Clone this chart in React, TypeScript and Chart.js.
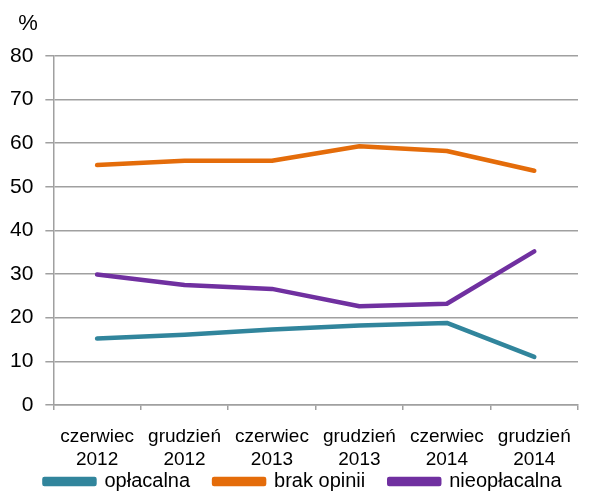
import React, { useEffect, useRef } from "react";
import { Chart, registerables } from "chart.js";

Chart.register(...registerables);

const categories: string[][] = [
  ["czerwiec", "2012"],
  ["grudzień", "2012"],
  ["czerwiec", "2013"],
  ["grudzień", "2013"],
  ["czerwiec", "2014"],
  ["grudzień", "2014"],
];
const oplacalna = [15.2, 16.1, 17.3, 18.2, 18.8, 11.0];
const brakOpinii = [55.0, 56.0, 56.0, 59.3, 58.2, 53.7];
const nieoplacalna = [29.9, 27.5, 26.6, 22.6, 23.2, 35.2];
const seriesNames = ["opłacalna", "brak opinii", "nieopłacalna"];
const unitLabel = "%";

const FONT = "'Liberation Sans', Arial, sans-serif";
const LEGEND_FONT = 20;
const LEGEND_PAD = 24;

export default function App() {
  const ref = useRef<HTMLCanvasElement | null>(null);
  useEffect(() => {
    document.body.style.margin = "0";
    const ctx = ref.current;
    if (!ctx) return;
    const unitPlugin = {
      id: "unitLabel",
      afterDraw(chart: any) {
        const c = chart.ctx;
        const a = chart.chartArea;
        c.save();
        c.font = `22px ${FONT}`;
        c.fillStyle = "#000";
        c.textBaseline = "middle";
        c.textAlign = "left";
        c.fillText(unitLabel, a.left - 35, a.top - 32);
        c.restore();
      },
    };
    // place the legend row just under the two-line category labels
    const legendPlacePlugin = {
      id: "legendPlace",
      afterLayout(chart: any) {
        const lg = chart.legend;
        if (!lg) return;
        const centerY = chart.height - 9.5;
        const top = centerY - LEGEND_FONT / 2 - LEGEND_PAD;
        lg.top = top;
        lg.bottom = chart.height;
        lg.height = lg.bottom - lg.top;
        lg.left += 15;
        lg.right += 15;
      },
    };
    const colors = ["#31859C", "#E46C0A", "#7030A0"];
    const data = [oplacalna, brakOpinii, nieoplacalna];
    const chart = new Chart(ctx, {
      type: "line",
      data: {
        labels: categories,
        datasets: data.map((d, i) => ({
          label: seriesNames[i],
          data: d,
          borderColor: colors[i],
          backgroundColor: colors[i],
          borderWidth: 4.5,
          pointRadius: 0,
          tension: 0,
          borderCapStyle: "round" as const,
          borderJoinStyle: "round" as const,
        })),
      },
      options: {
        animation: false,
        responsive: false,
        layout: { padding: { top: 56, left: -2, right: 14, bottom: 0 } },
        plugins: {
          legend: {
            position: "bottom",
            maxHeight: 4,
            labels: {
              boxWidth: 50,
              boxHeight: 5,
              padding: LEGEND_PAD,
              color: "#000",
              font: { family: FONT, size: LEGEND_FONT },
            },
          },
          tooltip: { enabled: false },
        },
        scales: {
          x: {
            offset: true,
            grid: {
              offset: true,
              drawOnChartArea: false,
              drawTicks: true,
              tickLength: 5,
              color: "#a0a0a0",
              lineWidth: 1.5,
            },
            border: { color: "#a0a0a0", width: 1.5 },
            ticks: {
              autoSkip: false,
              maxRotation: 0,
              color: "#000",
              padding: 15,
              font: { family: FONT, size: 19, lineHeight: 1.24 },
            },
          },
          y: {
            min: 0,
            max: 80,
            ticks: {
              stepSize: 10,
              color: "#000",
              padding: 12,
              font: { family: FONT, size: 21 },
            },
            grid: {
              color: "#a0a0a0",
              lineWidth: 1.5,
              tickLength: 8,
            },
            border: { color: "#a0a0a0", width: 1.5 },
          },
        },
      },
      plugins: [unitPlugin, legendPlacePlugin],
    });
    return () => chart.destroy();
  }, []);
  return <canvas ref={ref} width={592} height={491} style={{ display: "block" }} />;
}
